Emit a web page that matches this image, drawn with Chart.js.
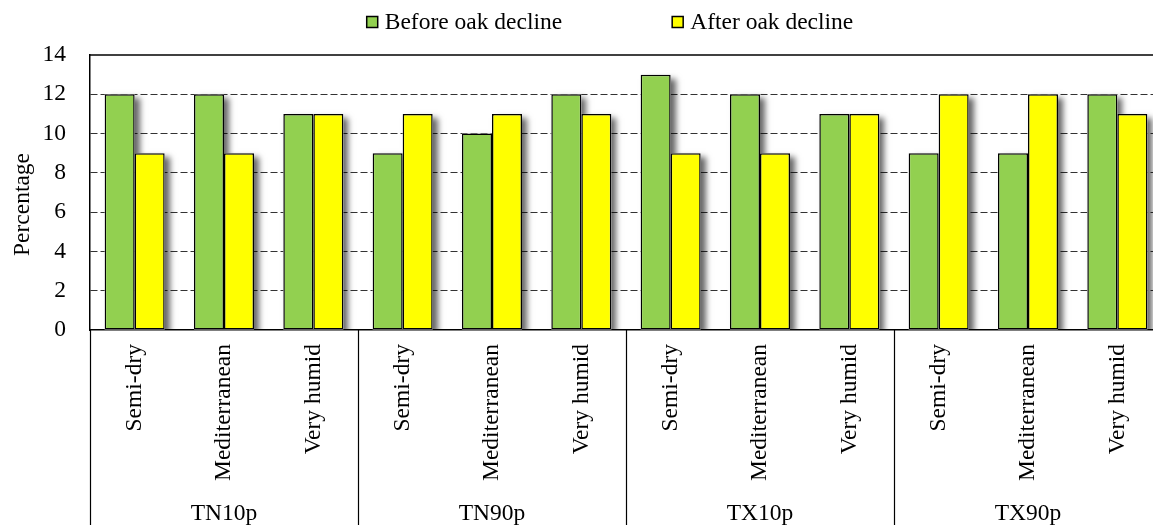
<!DOCTYPE html>
<html>
<head>
<meta charset="utf-8">
<script src="https://cdn.jsdelivr.net/npm/chart.js@4.4.1/dist/chart.umd.min.js"></script>
<style>
  html, body { margin: 0; padding: 0; background: #fff; overflow: hidden; }
  canvas { display: block; }
</style>
</head>
<body>
<canvas id="chart-oak" width="1163" height="525"></canvas>
<script>
//---------------------- data ----------------------
var zones = ["Semi-dry", "Mediterranean", "Very humid"];
var indices = ["TN10p", "TN90p", "TX10p", "TX90p"];
var before_decline = [12, 12, 11, 9, 10, 12, 13, 12, 11, 9, 9, 12];
var after_decline = [9, 9, 11, 11, 11, 11, 9, 9, 11, 12, 12, 11];
var y_ticks = [0, 2, 4, 6, 8, 10, 12, 14];
var series_names = ["Before oak decline", "After oak decline"];
var series_colors = ["#92D050", "#FFFF00"];
var y_title = "Percentage";

// one label per bar pair
var labels = [];
indices.forEach(function (idx) {
    zones.forEach(function (z) { labels.push(z); });
});

var FONT = "'Liberation Serif', 'Times New Roman', serif";
var FS = 23.5;

//---------------------- plugins ----------------------
// soft shadow right of every bar, drawn before the bars
var barShadow = {
    id: 'barShadow',
    beforeDatasetsDraw: function (chart) {
        var ctx = chart.ctx;
        var area = chart.chartArea;
        ctx.save();
        ctx.beginPath();
        ctx.rect(area.left, area.top, area.right - area.left, area.bottom - area.top);
        ctx.clip();
        ctx.shadowColor = 'rgba(0,0,0,0.6)';
        ctx.shadowBlur = 6;
        ctx.shadowOffsetX = 5;
        ctx.shadowOffsetY = 4;
        ctx.fillStyle = '#fff';
        chart.data.datasets.forEach(function (ds, i) {
            chart.getDatasetMeta(i).data.forEach(function (bar) {
                var p = bar.getProps(['x', 'y', 'base', 'width'], true);
                ctx.fillRect(p.x - p.width / 2, p.y, p.width, p.base - p.y);
            });
        });
        ctx.restore();
    }
};

// top border, y title, group separators and group labels
var frameAndGroups = {
    id: 'frameAndGroups',
    afterDraw: function (chart) {
        var ctx = chart.ctx;
        var area = chart.chartArea;
        var xs = chart.scales.x;
        ctx.save();
        ctx.strokeStyle = '#000';
        ctx.lineWidth = 1.5;
        ctx.beginPath();
        ctx.moveTo(area.left, area.top);
        ctx.lineTo(area.right, area.top);
        ctx.stroke();

        ctx.lineWidth = 1.2;
        for (var g = 0; g <= indices.length; g++) {
            var bx = Math.round(xs.getPixelForValue(g * zones.length - 0.5)) + 0.5;
            ctx.beginPath();
            ctx.moveTo(bx, area.bottom);
            ctx.lineTo(bx, chart.height);
            ctx.stroke();
        }

        ctx.fillStyle = '#000';
        ctx.font = FS + "px " + FONT;
        ctx.textAlign = 'center';
        ctx.textBaseline = 'middle';
        indices.forEach(function (name, g) {
            var x0 = xs.getPixelForValue(g * zones.length - 0.5);
            var x1 = xs.getPixelForValue((g + 1) * zones.length - 0.5);
            ctx.fillText(name, (x0 + x1) / 2, chart.height - 11);
        });

        // y axis title, sits a little below the plot middle
        ctx.translate(23, (area.top + area.bottom) / 2 + 12);
        ctx.rotate(-Math.PI / 2);
        ctx.fillText(y_title, 0, 0);
        ctx.restore();
    }
};

// legend row at the top
var topLegend = {
    id: 'topLegend',
    afterDraw: function (chart) {
        var ctx = chart.ctx;
        var area = chart.chartArea;
        ctx.save();
        ctx.font = FS + "px " + FONT;
        ctx.textBaseline = 'middle';
        ctx.textAlign = 'left';
        var box = 11, gap = 7, spacing = 110;
        var w0 = ctx.measureText(series_names[0]).width;
        var w1 = ctx.measureText(series_names[1]).width;
        var total = box + gap + w0 + spacing + box + gap + w1;
        var x = (area.left + area.right) / 2 - 16 - total / 2;
        var y = 22;
        series_names.forEach(function (name, i) {
            ctx.fillStyle = series_colors[i];
            ctx.fillRect(x, y - box / 2, box, box);
            ctx.strokeStyle = '#000';
            ctx.lineWidth = 1.5;
            ctx.strokeRect(x, y - box / 2, box, box);
            ctx.fillStyle = '#000';
            ctx.fillText(name, x + box + gap, y + 1);
            x += box + gap + (i === 0 ? w0 : w1) + spacing;
        });
        ctx.restore();
    }
};

//---------------------- chart ----------------------
var ctx_oak = document.getElementById('chart-oak').getContext('2d');
var chart_oak = new Chart(ctx_oak, {
    type: 'bar',
    data: {
        labels: labels,
        datasets: [{
            label: series_names[0],
            data: before_decline,
            backgroundColor: series_colors[0],
            borderColor: '#000',
            borderWidth: 1.5,
            borderSkipped: false,
            categoryPercentage: 0.672,
            barPercentage: 1.0
        }, {
            label: series_names[1],
            data: after_decline,
            backgroundColor: series_colors[1],
            borderColor: '#000',
            borderWidth: 1.5,
            borderSkipped: false,
            categoryPercentage: 0.672,
            barPercentage: 1.0
        }]
    },
    options: {
        responsive: false,
        animation: false,
        layout: {
            padding: { top: 55, right: 1, bottom: 0, left: 0 }
        },
        plugins: {
            legend: { display: false },
            tooltip: { enabled: false }
        },
        scales: {
            x: {
                grid: { display: false, drawTicks: false },
                border: { display: true, color: '#000', width: 1.5 },
                ticks: {
                    autoSkip: false,
                    maxRotation: 90,
                    minRotation: 90,
                    padding: 14,
                    color: '#000',
                    font: { family: FONT, size: FS }
                },
                afterFit: function (scale) {
                    scale.height = 195;
                    scale.paddingLeft = 0;
                    scale.paddingRight = 0;
                }
            },
            y: {
                min: y_ticks[0],
                max: y_ticks[y_ticks.length - 1],
                afterBuildTicks: function (scale) {
                    scale.ticks = y_ticks.map(function (v) { return { value: v }; });
                },
                grid: {
                    drawTicks: false,
                    color: function (c) {
                        var v = c.tick.value;
                        return (v === y_ticks[0] || v === y_ticks[y_ticks.length - 1]) ? 'rgba(0,0,0,0)' : '#333';
                    },
                    lineWidth: 1
                },
                border: { display: true, color: '#000', width: 1.5, dash: [7, 3] },
                ticks: {
                    padding: 24,
                    color: '#000',
                    font: { family: FONT, size: FS }
                },
                title: { display: false },
                afterFit: function (scale) {
                    scale.width = 90;
                    scale.paddingTop = 0;
                    scale.paddingBottom = 0;
                }
            }
        }
    },
    plugins: [barShadow, frameAndGroups, topLegend]
});
</script>
</body>
</html>
